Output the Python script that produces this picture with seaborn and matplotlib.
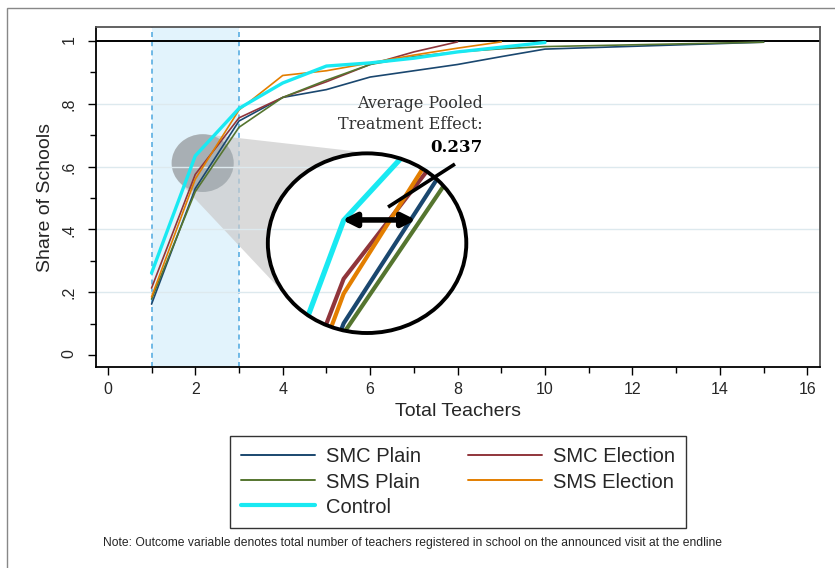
import numpy as np
import pandas as pd
import matplotlib
matplotlib.use("Agg")
import matplotlib.pyplot as plt
import seaborn as sns
from matplotlib.patches import Ellipse, Polygon, Rectangle
from matplotlib.lines import Line2D

# cumulative share of schools by total teachers
groups = ["SMC Plain", "SMC Election", "SMS Plain", "SMS Election", "Control"]
smc_plain_x = [1, 2, 3, 4, 5, 6, 7, 8, 9, 10, 15]
smc_plain_y = [0.162, 0.53, 0.745, 0.82, 0.845, 0.885, 0.905, 0.925, 0.95, 0.974, 0.996]
smc_elec_x = [1, 2, 3, 4, 5, 6, 7, 8]
smc_elec_y = [0.213, 0.575, 0.755, 0.82, 0.87, 0.925, 0.965, 0.997]
sms_plain_x = [1, 2, 3, 4, 5, 6, 7, 8, 9, 10, 15]
sms_plain_y = [0.178, 0.52, 0.725, 0.82, 0.875, 0.925, 0.95, 0.965, 0.975, 0.982, 0.996]
sms_elec_x = [1, 2, 3, 4, 5, 6, 7, 8, 9]
sms_elec_y = [0.185, 0.56, 0.78, 0.89, 0.905, 0.93, 0.955, 0.977, 0.997]
control_x = [1, 2, 3, 4, 5, 6, 7, 8, 9, 10]
control_y = [0.261, 0.634, 0.785, 0.866, 0.92, 0.93, 0.945, 0.965, 0.98, 0.995]

effect = "0.237"
note = ("Note: Outcome variable denotes total number of teachers registered "
        "in school on the announced visit at the endline")

colors = {"SMC Plain": "#1a476f", "SMC Election": "#90353b",
          "SMS Plain": "#55752f", "SMS Election": "#e37e00",
          "Control": "#19e9f2"}

frames = []
for g, xs, ys in zip(groups,
                     [smc_plain_x, smc_elec_x, sms_plain_x, sms_elec_x, control_x],
                     [smc_plain_y, smc_elec_y, sms_plain_y, sms_elec_y, control_y]):
    frames.append(pd.DataFrame({"teachers": xs, "share": ys, "group": g}))
df = pd.concat(frames, ignore_index=True)

sns.set_style("white")
plt.rcParams["font.family"] = ["Liberation Sans", "DejaVu Sans"]

fig = plt.figure(figsize=(8.35, 5.68), dpi=100)
ax = fig.add_axes([0.115, 0.354, 0.867, 0.598])
ax.set_xlim(-0.27, 16.29)
ax.set_ylim(-0.038, 1.0435)

# shaded window between 1 and 3 teachers
ax.axvspan(1, 3, color="#e2f3fc", zorder=0.3, lw=0)
for xv in [1, 3]:
    ax.axvline(xv, color="#5aaee2", lw=1.2, ls=(0, (3, 2.5)), zorder=0.4)

# magnifier geometry (data coords)
small_c, small_r = (2.17, 0.611), (0.71, 0.092)
big_c, big_r = (5.93, 0.356), (2.27, 0.286)
mag = 3.15


def hull(points):
    pts = sorted(map(tuple, points))
    def cross(o, a, b):
        return (a[0] - o[0]) * (b[1] - o[1]) - (a[1] - o[1]) * (b[0] - o[0])
    lower, upper = [], []
    for p in pts:
        while len(lower) >= 2 and cross(lower[-2], lower[-1], p) <= 0:
            lower.pop()
        lower.append(p)
    for p in reversed(pts):
        while len(upper) >= 2 and cross(upper[-2], upper[-1], p) <= 0:
            upper.pop()
        upper.append(p)
    return lower[:-1] + upper[:-1]


# cone joining the two circles (hull computed in pixel-like units)
sx, sy = 43.7, 314.3
t = np.linspace(0, 2 * np.pi, 180, endpoint=False)
pts = []
for (cx, cy), (rx, ry) in [(small_c, small_r), (big_c, big_r)]:
    pts += list(zip((cx + rx * np.cos(t)) * sx, (cy + ry * np.sin(t)) * sy))
cone_pts = [(px / sx, py / sy) for px, py in hull(pts)]
ax.add_patch(Polygon(cone_pts, closed=True, facecolor="#cccccc", alpha=0.72,
                     lw=0, zorder=1))
ax.add_patch(Ellipse(small_c, 2 * small_r[0], 2 * small_r[1],
                     facecolor="#7f8a90", alpha=0.5, lw=0, zorder=1.1))
ax.add_patch(Ellipse(big_c, 2 * big_r[0], 2 * big_r[1],
                     facecolor="white", lw=0, zorder=1.2))

for yv in [0.2, 0.4, 0.6, 0.8]:
    ax.axhline(yv, color="#dde9ee", lw=1, zorder=1.5)
ax.axhline(1, color="black", lw=1.4, zorder=1.6)

sns.lineplot(data=df, x="teachers", y="share", hue="group", size="group",
             sizes={g: (2.4 if g == "Control" else 1.2) for g in groups},
             palette=colors, hue_order=groups, legend=False,
             errorbar=None, sort=True, ax=ax, zorder=2)

# magnified copy of the lines inside the big circle
zoom_df = df.copy()
zoom_df["teachers"] = big_c[0] + (df["teachers"] - small_c[0]) * mag
zoom_df["share"] = big_c[1] + (df["share"] - small_c[1]) * mag
n_before = len(ax.lines)
sns.lineplot(data=zoom_df, x="teachers", y="share", hue="group", size="group",
             sizes={g: (3.8 if g == "Control" else 3.0) for g in groups},
             palette=colors, hue_order=["SMC Election", "SMS Election", "SMC Plain",
                                        "SMS Plain", "Control"],
             legend=False, errorbar=None, ax=ax, zorder=3)
clip = Ellipse(big_c, 2 * big_r[0], 2 * big_r[1], transform=ax.transData)
for ln in ax.lines[n_before:]:
    ln.set_clip_path(clip)
ax.add_patch(Ellipse(big_c, 2 * big_r[0], 2 * big_r[1], facecolor="none",
                     edgecolor="black", lw=2.8, zorder=3.5))

ax.annotate("", xy=(7.05, 0.43), xytext=(5.36, 0.43),
            arrowprops=dict(arrowstyle="<|-|>", color="black", lw=4,
                            mutation_scale=20, shrinkA=0, shrinkB=0), zorder=4)
ax.plot([6.41, 7.94], [0.471, 0.608], color="black", lw=2.6, zorder=4,
        solid_capstyle="butt")
ax.text(8.58, 0.802, "Average Pooled", ha="right", va="center",
        family="DejaVu Serif", fontsize=11.5, color="#333333", zorder=5)
ax.text(8.58, 0.735, "Treatment Effect:", ha="right", va="center",
        family="DejaVu Serif", fontsize=11.5, color="#333333", zorder=5)
ax.text(8.58, 0.662, effect, ha="right", va="center", family="DejaVu Serif",
        fontsize=12, fontweight="bold", color="black", zorder=5)

# axes styling
ax.set_xticks(range(0, 17, 2))
ax.set_xticks(range(1, 17, 2), minor=True)
ax.set_yticks([0, 0.2, 0.4, 0.6, 0.8, 1])
ax.set_yticklabels(["0", ".2", ".4", ".6", ".8", "1"])
ax.set_yticks([0.1, 0.3, 0.5, 0.7, 0.9], minor=True)
ax.tick_params(axis="both", which="major", direction="out", length=6, width=1,
               color="black", labelsize=11.5, bottom=True, left=True)
ax.tick_params(axis="both", which="minor", direction="out", length=4, width=1,
               color="black", bottom=True, left=True)
ax.tick_params(axis="y", labelrotation=90, pad=8)
ax.tick_params(axis="x", pad=5)
ax.set_xlabel("Total Teachers", fontsize=14)
ax.set_ylabel("Share of Schools", fontsize=14)
ax.xaxis.set_label_coords(0.5, -0.105)
ax.yaxis.set_label_coords(-0.058, 0.5)
for side in ["left", "bottom"]:
    ax.spines[side].set_color("black")
    ax.spines[side].set_linewidth(1.3)
for side in ["top", "right"]:
    ax.spines[side].set_color("#555555")
    ax.spines[side].set_linewidth(1.3)

order = ["SMC Plain", "SMS Plain", "Control", "SMC Election", "SMS Election"]
handles = [Line2D([], [], color=colors[g], lw=(3 if g == "Control" else 1.4))
           for g in order]
leg = fig.legend(handles, order, loc="center", bbox_to_anchor=(0.5485, 0.1514),
                 ncol=2, fontsize=14.5, frameon=True, fancybox=False,
                 handlelength=3.7, handletextpad=0.55, columnspacing=2.3,
                 labelspacing=0.3, borderpad=0.55, borderaxespad=0,
                 framealpha=1)
leg.get_frame().set_edgecolor("#333333")
leg.get_frame().set_linewidth(1)

fig.text(0.4946, 0.044, note, ha="center", va="center", fontsize=8.7)
fig.patches.append(Rectangle((0.0084, -0.1), 1.2, 1.0 - 0.0141 + 0.1,
                             transform=fig.transFigure, fill=False,
                             edgecolor="#888888", lw=1))

fig.savefig("out.png", dpi=100)
